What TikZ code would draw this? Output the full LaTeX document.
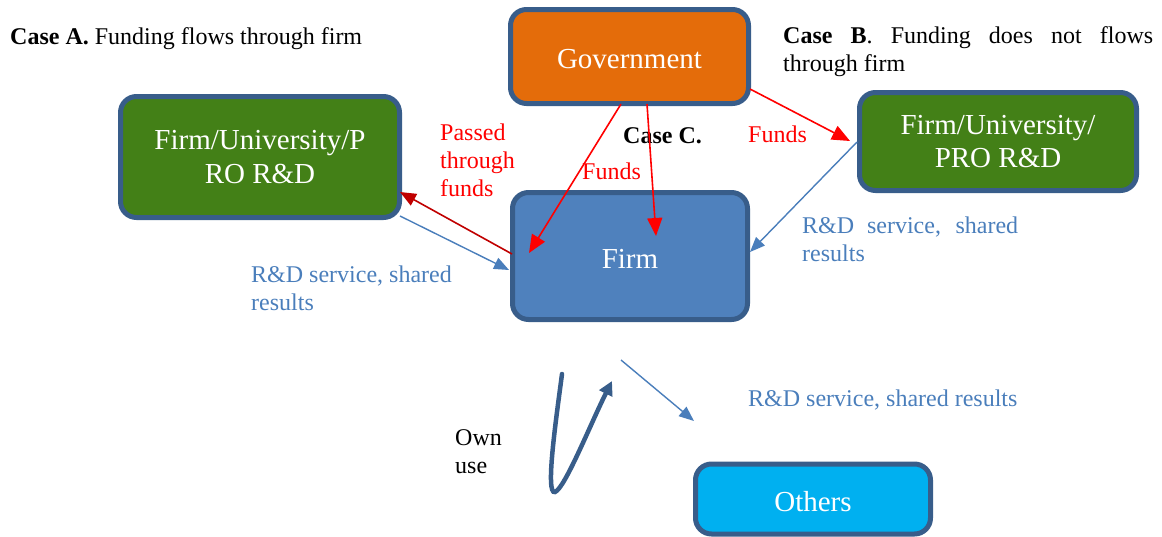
\documentclass[tikz,border=0pt]{standalone}
\usepackage{fontspec}
\setmainfont{Liberation Serif}
\usetikzlibrary{arrows.meta}

\definecolor{edgeblue}{RGB}{56,93,138}
\definecolor{govorange}{RGB}{228,108,10}
\definecolor{rdgreen}{RGB}{67,128,23}
\definecolor{firmblue}{RGB}{79,129,189}
\definecolor{otherscyan}{RGB}{0,176,240}
\definecolor{flowblue}{RGB}{74,126,187}
\definecolor{fundred}{RGB}{255,0,0}
\definecolor{passred}{RGB}{192,0,0}

\tikzset{
  actor/.style={draw=edgeblue, line width=5pt, rounded corners=16pt,
    text=white, font=\fontsize{29}{33.5}\selectfont, align=center,
    inner sep=0pt},
  oneline/.style={text height=24pt, text depth=0pt},
  note/.style={inner sep=0pt, font=\fontsize{24}{28}\selectfont},
  fundarrow/.style={draw=fundred, line width=1.6pt,
    -{Triangle[length=18pt,width=15pt]}},
  passarrow/.style={draw=passred, line width=1.6pt,
    -{Triangle[length=16pt,width=13pt]}},
  flowarrow/.style={draw=flowblue, line width=1.4pt,
    -{Triangle[length=15pt,width=12pt]}},
  ownarrow/.style={draw=edgeblue, line width=4.5pt, line cap=round,
    -{Triangle[length=14pt,width=14pt]}},
}

\begin{document}
\begin{tikzpicture}[x=1pt,y=-1pt]
  \useasboundingbox (0,0) rectangle (1162,536);

  % actors
  \node[actor, oneline, fill=govorange, minimum width=238pt, minimum height=94pt]
    (gov) at (629.5,56.5) {Government};
  \node[actor, fill=rdgreen, minimum width=279pt, minimum height=121pt]
    (rdA) at (260,157) {Firm/University/P\\RO R\&D};
  \node[actor, fill=rdgreen, minimum width=277pt, minimum height=98pt]
    (rdB) at (998,141.5) {Firm/University/\\PRO R\&D};
  \node[actor, oneline, fill=firmblue, minimum width=235pt, minimum height=127pt]
    (firm) at (630,256) {Firm};
  \node[actor, oneline, fill=otherscyan, minimum width=235pt, minimum height=70pt]
    (others) at (813,499) {Others};

  % headings
  \node[note, anchor=base west] (caseA) at (10,44)
    {\textbf{Case A.} Funding flows through firm};
  \node[note, anchor=north west, text width=370pt, align=justify] (caseB) at (783,26)
    {\pretolerance=10000\hyphenpenalty=10000
     \textbf{Case B}. Funding does not flows through firm};
  \node[note, anchor=base west, font=\fontsize{24}{28}\selectfont\bfseries]
    (caseC) at (623,143) {Case C.};

  % flow labels
  \node[note, anchor=north west, text=fundred, align=left] (lpass) at (440,124)
    {Passed\\through\\funds};
  \node[note, anchor=base west, text=fundred] (lfundsC) at (582,179) {Funds};
  \node[note, anchor=base west, text=fundred] (lfundsB) at (748,142) {Funds};
  \node[note, anchor=north west, text=flowblue, align=left] (lrdA) at (251,266)
    {R\&D service, shared\\results};
  \node[note, anchor=north west, text=flowblue, text width=216pt, align=justify]
    (lrdB) at (802,217)
    {\pretolerance=10000\hyphenpenalty=10000 R\&D service, shared results};
  \node[note, anchor=base west, text=flowblue] (lrdO) at (748,406)
    {R\&D service, shared results};
  \node[note, anchor=north west, align=left] (lown) at (455,429) {Own\\use};

  % connector end points
  \coordinate (gC1) at (621,104);
  \coordinate (gC2) at (647,104);
  \coordinate (gB)  at (750,89);
  \coordinate (fC1) at (529,253);
  \coordinate (fC2) at (656,236);
  \coordinate (bIn) at (850,141);
  \coordinate (fOut) at (512,254);
  \coordinate (aIn) at (400,192);
  \coordinate (aOut) at (400,216);
  \coordinate (fInA) at (509,270);
  \coordinate (bOut) at (857,142);
  \coordinate (fInB) at (750,252);
  \coordinate (fDown) at (621,360);
  \coordinate (oIn) at (694,421);
  \coordinate (ownS) at (562,374);
  \coordinate (ownE) at (612,381);

  % funding
  \draw[fundarrow] (gC1) -- (fC1);
  \draw[fundarrow] (gC2) -- (fC2);
  \draw[fundarrow] (gB) -- (bIn);
  \draw[passarrow] (fOut) -- (aIn);

  % R&D results
  \draw[flowarrow] (aOut) -- (fInA);
  \draw[flowarrow] (bOut) -- (fInB);
  \draw[flowarrow] (fDown) -- (oIn);

  % own use loop
  \draw[ownarrow] (ownS) .. controls (556,420) and (545,495) .. (555,492)
    .. controls (565,488) and (590,425) .. (ownE);
\end{tikzpicture}
\end{document}
